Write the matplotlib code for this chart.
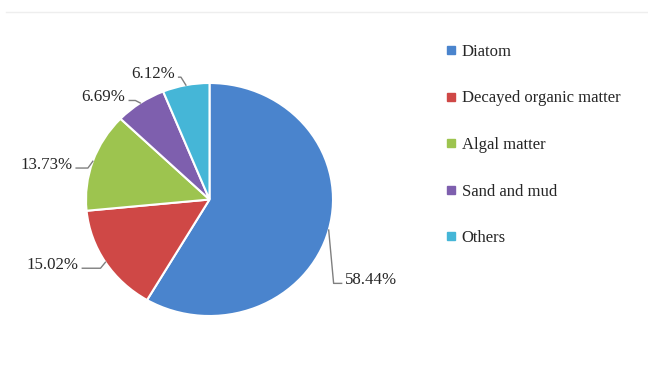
import numpy as np
import matplotlib
matplotlib.use("Agg")
import matplotlib.pyplot as plt
from matplotlib.lines import Line2D

# ==========================
# Données
# ==========================
categories = ["Diatom", "Decayed organic matter", "Algal matter", "Sand and mud", "Others"]
values = [58.44, 15.02, 13.73, 6.69, 6.12]
colors = ["#4A84CD", "#CF4846", "#9DC44F", "#7E5FAE", "#45B6D7"]

# position du texte de chaque étiquette (coordonnées du camembert, rayon 1)
label_pos = [(1.10, -0.69), (-1.06, -0.56), (-1.11, 0.30), (-0.68, 0.88), (-0.28, 1.08)]
label_ha = ["left", "right", "right", "right", "right"]

plt.rcParams["font.family"] = ["Liberation Serif", "DejaVu Serif"]

W, H = 648, 365
fig = plt.figure(figsize=(W / 100, H / 100), dpi=100)

# ligne grise très légère en haut
fig.add_artist(Line2D([6 / W, 1], [1 - 12 / H, 1 - 12 / H], color="#EEEEEE", lw=1))

# ==========================
# Camembert
# ==========================
cx, cy, rx, ry = 209.5, 199.5, 123.5, 116.5
ax = fig.add_axes([(cx - rx) / W, 1 - (cy + ry) / H, 2 * rx / W, 2 * ry / H])
wedges, _ = ax.pie(values, colors=colors, startangle=90, counterclock=False,
                   wedgeprops=dict(edgecolor="white", linewidth=1.5))
ax.set_aspect("auto")
ax.set_xlim(-1, 1)
ax.set_ylim(-1, 1)

for w, v, (tx, ty), ha in zip(wedges, values, label_pos, label_ha):
    mid = np.deg2rad((w.theta1 + w.theta2) / 2)
    ex, ey = np.cos(mid), np.sin(mid)
    side = 1 if ha == "left" else -1
    ax.text(tx, ty, f"{v:.2f}%", ha=ha, va="center", fontsize=12.2, color="#262626")
    line_y = ty - 0.03
    elbow_x = ex + 0.04 * side
    end_x = tx - 0.03 * side
    ax.plot([ex, elbow_x, end_x], [ey, line_y, line_y], color="#7F7F7F", lw=1,
            clip_on=False)

# ==========================
# Légende
# ==========================
handles = [Line2D([], [], marker="s", linestyle="none", markersize=5.5,
                  markerfacecolor=c, markeredgecolor=c) for c in colors]
fig.legend(handles, categories, loc="upper left", bbox_to_anchor=(446 / W, 1 - 44 / H),
           frameon=False, fontsize=12, labelspacing=1.83, handlelength=0.6,
           handletextpad=0.35, borderpad=0, borderaxespad=0, labelcolor="#262626")

fig.savefig("out.png", dpi=100, facecolor="white")
